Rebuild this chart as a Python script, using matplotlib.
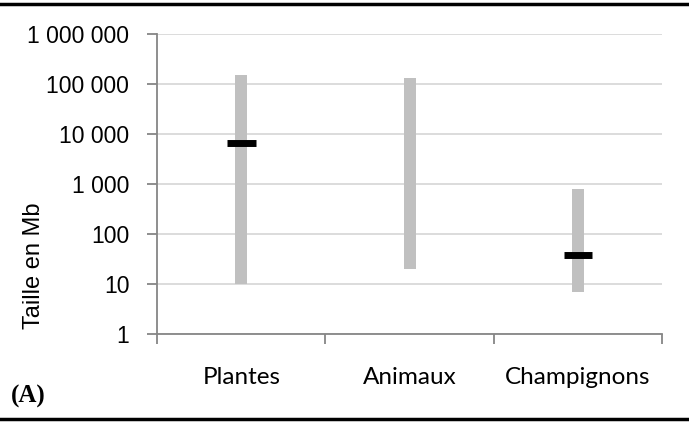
import matplotlib
matplotlib.use("Agg")
import matplotlib.pyplot as plt
from matplotlib.ticker import FixedLocator, FuncFormatter, NullLocator

# genome size ranges (Mb) per group
groupes = ["Plantes", "Animaux", "Champignons"]
taille_min = [10, 20, 6.8]
taille_max = [150000, 130000, 790]
# median marks; Animaux has none
mediane = [6500, None, 38]
graduations = [1, 10, 100, 1000, 10000, 100000, 1000000]


def milliers(v, pos):
    return "{:,}".format(int(round(v))).replace(",", " ")


fig = plt.figure(figsize=(6.89, 4.23), dpi=100)
ax = fig.add_axes([0.228, 0.2104, 0.733, 0.7092])

x = list(range(len(groupes)))
for i in x:
    ax.bar(i, taille_max[i] - taille_min[i], bottom=taille_min[i], width=0.072,
           color="#c0c0c0", zorder=2)
    if mediane[i] is not None:
        ax.plot([i - 0.085, i + 0.085], [mediane[i], mediane[i]], color="black",
                lw=5, solid_capstyle="butt", zorder=3)

ax.set_yscale("log")
ax.set_ylim(1, 1000000)
ax.set_xlim(-0.5, 2.5)
ax.yaxis.set_major_locator(FixedLocator(graduations))
ax.yaxis.set_minor_locator(NullLocator())
ax.yaxis.set_major_formatter(FuncFormatter(milliers))
ax.grid(axis="y", color="#d9d9d9", lw=1.3, zorder=0)

ax.set_xticks([-0.5, 0.5, 1.5, 2.5])
ax.set_xticklabels([])
ax.set_xticks(x, minor=True)
ax.set_xticklabels(groupes, minor=True, family="Lato", fontsize=17.5)
ax.tick_params(axis="x", which="minor", length=0, pad=24)
ax.tick_params(axis="x", which="major", length=7, width=1.3, color="#868686")
ax.tick_params(axis="y", length=7, width=1.3, color="#868686", labelsize=16.5, pad=13)
for lab in ax.get_yticklabels():
    lab.set_family("Liberation Sans")

for side in ["top", "right"]:
    ax.spines[side].set_visible(False)
for side in ["left", "bottom"]:
    ax.spines[side].set_color("#868686")
    ax.spines[side].set_linewidth(1.3)

# axis label sits low, beside the lower half of the scale
fig.text(34 / 689, 1 - 266 / 423, "Taille en Mb", family="Liberation Sans",
         fontsize=17, rotation=90, ha="center", va="center")

fig.text(0.016, 1 - 396 / 423, "(A)", family="Liberation Serif", weight="bold",
         fontsize=18, va="center", ha="left")

# horizontal rules framing the panel
fig.add_artist(plt.Line2D([0, 1], [0.991, 0.991], color="black", lw=2.5,
                          transform=fig.transFigure))
fig.add_artist(plt.Line2D([0, 1], [0.009, 0.009], color="black", lw=2.5,
                          transform=fig.transFigure))

fig.savefig("out.png", dpi=100)
